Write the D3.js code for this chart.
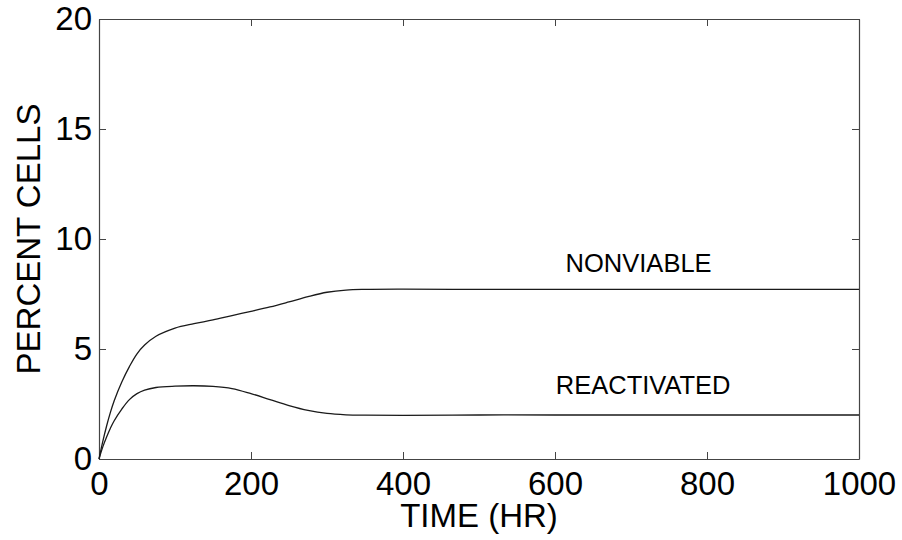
<!DOCTYPE html>
<html>
<head>
<meta charset="utf-8">
<script src="https://cdn.jsdelivr.net/npm/d3@7"></script>
<style>
  html, body { margin: 0; padding: 0; background: #fff; }
  svg { display: block; }
</style>
</head>
<body>
<svg id="chart" width="902" height="540"></svg>
<script>
// ---- data ----
const timeHr = [0, 5, 10, 15, 20, 30, 40, 50, 60, 75, 100, 125, 150, 175, 200, 225, 250, 275, 300, 325, 350, 400, 500, 600, 800, 1000];
const nonviable = [0, 0.8, 1.5, 2.12, 2.65, 3.5, 4.2, 4.78, 5.18, 5.58, 5.95, 6.15, 6.32, 6.52, 6.71, 6.91, 7.14, 7.38, 7.58, 7.68, 7.71, 7.72, 7.71, 7.71, 7.71, 7.71];
const reactivated = [0, 0.55, 1.0, 1.4, 1.74, 2.27, 2.7, 2.97, 3.13, 3.25, 3.31, 3.33, 3.3, 3.2, 2.97, 2.7, 2.43, 2.21, 2.07, 2.01, 1.99, 1.98, 2.0, 2.0, 2.0, 2.0];
const xTicks = [0, 200, 400, 600, 800, 1000];
const yTicks = [0, 5, 10, 15, 20];
const seriesLabels = ["NONVIABLE", "REACTIVATED"];
const labelTime = [710, 716];
const labelValue = [8.51, 2.95];
const xTitle = "TIME (HR)";
const yTitle = "PERCENT CELLS";

// ---- layout ----
const svg = d3.select("#chart");
const margin = {left: 99, top: 19, right: 43, bottom: 81};
const W = 902 - margin.left - margin.right;
const H = 540 - margin.top - margin.bottom;
const font = "'Liberation Sans', Arial, Helvetica, sans-serif";
const axisColor = "#444";

const x = d3.scaleLinear().domain([0, 1000]).range([0, W]);
const y = d3.scaleLinear().domain([0, 20]).range([H, 0]);

const g = svg.append("g").attr("transform", `translate(${margin.left},${margin.top})`);

function styleAxis(sel) {
  sel.selectAll("path.domain").attr("stroke", axisColor).attr("stroke-width", 1.2);
  sel.selectAll(".tick line").attr("stroke", axisColor).attr("stroke-width", 1);
  sel.selectAll(".tick text").attr("fill", "#000").style("font-family", font).style("font-size", "33px");
}

// bottom
g.append("g").attr("transform", `translate(0,${H})`)
  .call(d3.axisBottom(x).tickValues(xTicks).tickSizeInner(-7).tickSizeOuter(0).tickPadding(13).tickFormat(d3.format("d")))
  .call(styleAxis);
// top
g.append("g")
  .call(d3.axisTop(x).tickValues(xTicks).tickSizeInner(-7).tickSizeOuter(0).tickFormat(""))
  .call(styleAxis);
// left
g.append("g")
  .call(d3.axisLeft(y).tickValues(yTicks).tickSizeInner(-7).tickSizeOuter(0).tickPadding(7).tickFormat(d3.format("d")))
  .call(styleAxis);
// right
g.append("g").attr("transform", `translate(${W},0)`)
  .call(d3.axisRight(y).tickValues(yTicks).tickSizeInner(-7).tickSizeOuter(0).tickFormat(""))
  .call(styleAxis);

// lines
const line = d3.line().x(d => x(d[0])).y(d => y(d[1])).curve(d3.curveCatmullRom.alpha(0.5));
[nonviable, reactivated].forEach(vals => {
  g.append("path")
    .datum(timeHr.map((t, i) => [t, vals[i]]))
    .attr("fill", "none")
    .attr("stroke", "#1a1a1a")
    .attr("stroke-width", 1.3)
    .attr("d", line);
});

// series labels
seriesLabels.forEach((txt, i) => {
  g.append("text")
    .attr("x", x(labelTime[i]))
    .attr("y", y(labelValue[i]))
    .attr("text-anchor", "middle")
    .style("font-family", font)
    .style("font-size", "25.5px")
    .attr("fill", "#000")
    .text(txt);
});

// axis titles
svg.append("text")
  .attr("x", margin.left + W / 2)
  .attr("y", 527)
  .attr("text-anchor", "middle")
  .style("font-family", font)
  .style("font-size", "33px")
  .attr("fill", "#000")
  .text(xTitle);

svg.append("text")
  .attr("transform", `translate(40,${margin.top + H / 2}) rotate(-90)`)
  .attr("text-anchor", "middle")
  .style("font-family", font)
  .style("font-size", "33px")
  .attr("fill", "#000")
  .text(yTitle);
</script>
</body>
</html>
